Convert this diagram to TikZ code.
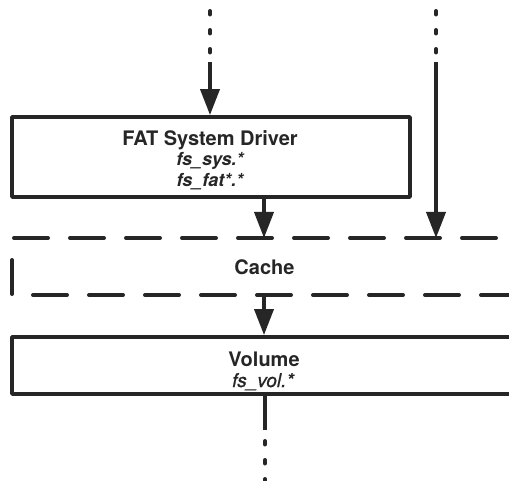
\documentclass[tikz,border=0pt]{standalone}
\usepackage{fontspec}
\setmainfont{TeX Gyre Heros}
\newfontfamily\medheros[FakeBold=0.9]{TeX Gyre Heros}
\usetikzlibrary{arrows.meta}
\definecolor{ink}{HTML}{262626}
\tikzset{
  boxshape/.style={draw=ink, line width=3.8pt, line join=round, inner sep=0pt},
  txtlbl/.style={text=ink, anchor=base, inner sep=0pt},
  title/.style={txtlbl, font=\fontsize{20}{22}\selectfont\bfseries},
  filebi/.style={txtlbl, font=\fontsize{18}{20}\selectfont\bfseries\itshape},
  filei/.style={txtlbl, font=\medheros\fontsize{19}{20}\selectfont\itshape},
  conn/.style={draw=ink, line width=3.8pt, -{Triangle[length=26pt,width=19pt]}},
  plain/.style={draw=ink, line width=3.8pt},
  dots/.style={draw=ink, line width=4pt, line cap=round, dash pattern=on 3.5pt off 15.5pt},
  cachedash/.style={draw=ink, line width=4pt, line cap=round, dash pattern=on 34pt off 22pt},
}
\begin{document}
\begin{tikzpicture}[x=1pt,y=-1pt]
\useasboundingbox (0,0) rectangle (509,481);
\clip (0,0) rectangle (509,481);
% boxes
\node[boxshape, minimum width=398pt, minimum height=80pt] (fat) at (211,157) {};
\node[boxshape, minimum width=515pt, minimum height=57pt] (vol) at (269.5,365.5) {};
% texts
\node[title] (fatt) at (210,146) {FAT System Driver};
\node[filebi] (fsys) at (210,166) {fs\_sys.*};
\node[filebi] (ffat) at (210,187) {fs\_fat*.*};
\node[title] (cache) at (264.5,275) {Cache};
\node[title] (volt) at (264,366) {Volume};
\node[filei] (fvol) at (263,387) {fs\_vol.*};
% cache dashed outline
\coordinate (ctl) at (14,238);
\coordinate (ctr) at (530,238);
\coordinate (cls) at (12,260);
\coordinate (clc) at (12,295);
\coordinate (cbr) at (530,295);
\draw[cachedash] (ctl) -- (ctr);
\draw[cachedash] (cls) -- (clc) -- (cbr);
% top-left incoming
\coordinate (a0) at (210,11);
\coordinate (a1) at (210,53);
\coordinate (a2) at (210,62);
\draw[dots] (a0) -- (a1);
\draw[conn] (a2) -- (fat.north -| a2);
% top-right incoming
\coordinate (b0) at (436,11);
\coordinate (b1) at (436,53);
\coordinate (b2) at (436,62);
\coordinate (b3) at (436,238);
\draw[dots] (b0) -- (b1);
\draw[conn] (b2) -- (b3);
% fat to cache
\coordinate (c0) at (264,198);
\coordinate (c1) at (264,238);
\draw[conn] (c0) -- (c1);
% cache to volume
\coordinate (d0) at (264,295);
\draw[conn] (d0) -- (vol.north -| d0);
% volume outgoing
\coordinate (e0) at (265,395);
\coordinate (e1) at (265,430);
\coordinate (e2) at (265,441);
\coordinate (e3) at (265,490);
\draw[plain] (e0) -- (e1);
\draw[dots] (e2) -- (e3);
\end{tikzpicture}
\end{document}
